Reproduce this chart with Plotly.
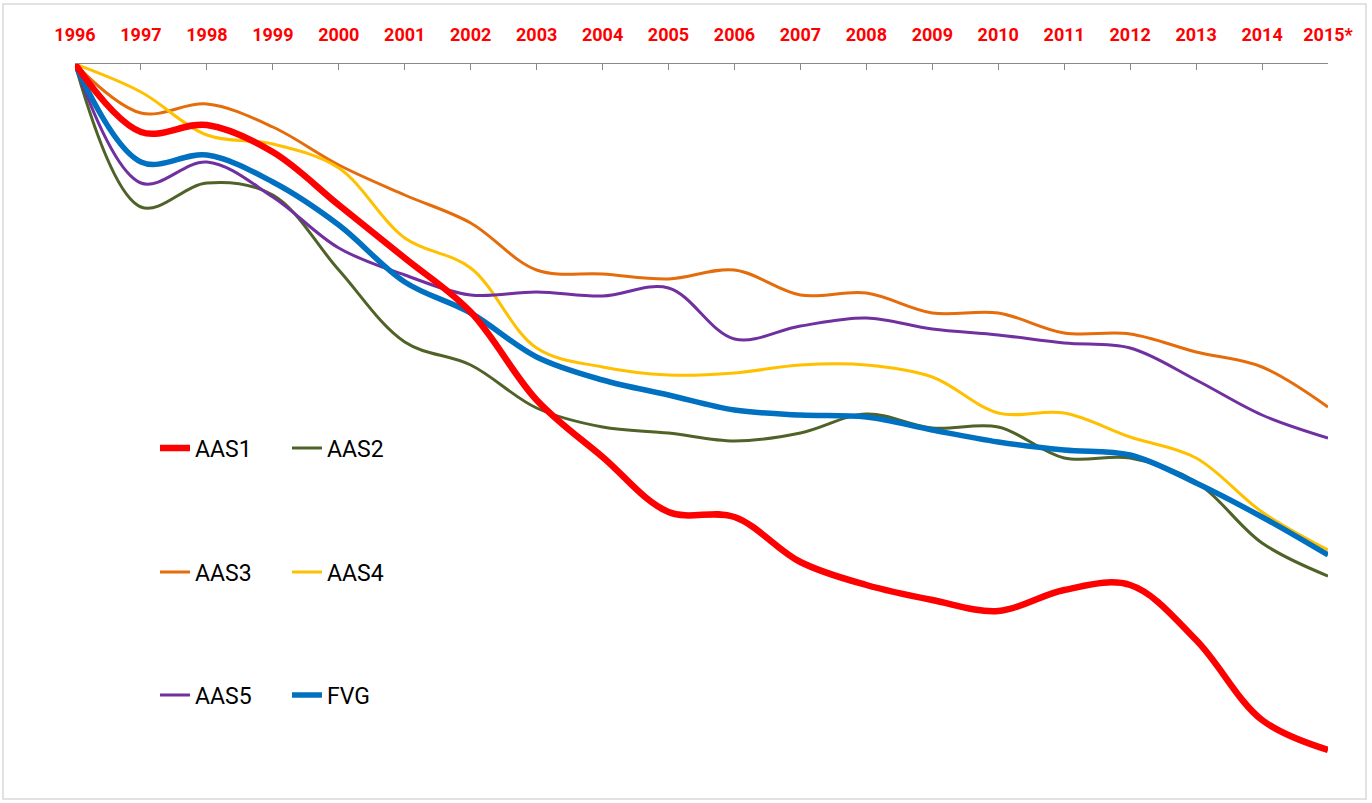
import plotly.graph_objects as go

years = ["1996", "1997", "1998", "1999", "2000", "2001", "2002", "2003", "2004", "2005",
         "2006", "2007", "2008", "2009", "2010", "2011", "2012", "2013", "2014", "2015*"]

aas1 = [100, 93.2, 93.9, 91.2, 85.9, 80.6, 75.2, 66.4, 60.7, 55.2, 54.7, 50.2, 47.9, 46.4, 45.3, 47.4, 47.9, 42.4, 34.4, 31.4]
aas2 = [100, 85.7, 88.1, 86.9, 79.4, 72.2, 69.9, 65.6, 63.7, 63.1, 62.3, 63.1, 65.0, 63.6, 63.7, 60.6, 60.6, 58.2, 52.1, 48.8]
aas3 = [100, 95.1, 96.0, 93.7, 89.9, 86.9, 84.1, 79.4, 79.0, 78.5, 79.4, 76.9, 77.1, 75.1, 75.1, 73.1, 73.0, 71.2, 69.7, 65.7]
aas4 = [100, 97.2, 92.9, 92.0, 89.6, 82.6, 79.6, 71.6, 69.7, 68.9, 69.1, 69.9, 69.9, 68.7, 65.1, 65.1, 62.7, 60.6, 55.2, 51.4]
aas5 = [100, 88.1, 90.2, 86.7, 81.6, 78.9, 76.9, 77.2, 76.8, 77.6, 72.5, 73.8, 74.6, 73.5, 72.9, 72.1, 71.6, 68.4, 64.9, 62.6]
fvg = [100, 90.2, 90.9, 88.2, 83.9, 78.2, 75.1, 70.7, 68.4, 66.9, 65.4, 64.9, 64.7, 63.4, 62.2, 61.4, 60.9, 58.1, 54.7, 50.9]

series = [
    ("AAS1", aas1, "#FF0000", 6.5, "legend"),
    ("AAS2", aas2, "#4F6228", 3, "legend"),
    ("AAS3", aas3, "#E46C0A", 3, "legend2"),
    ("AAS4", aas4, "#FFC000", 3, "legend2"),
    ("AAS5", aas5, "#7030A0", 3, "legend3"),
    ("FVG", fvg, "#0070C0", 5.5, "legend3"),
]

FONT = "Roboto, sans-serif"

fig = go.Figure()
order = [1, 2, 3, 4, 5, 0]
for i in order:
    name, vals, color, w, lg = series[i]
    fig.add_trace(go.Scatter(
        x=years, y=vals, name=name, mode="lines",
        line=dict(color=color, width=w, shape="spline", smoothing=1),
        legend=lg, legendrank=i,
    ))

W, H = 1372, 803
PL, PR, PT, PB = 75, 1328, 64, 780  # plot area in page pixels
L, R, T, B = PL, W - PR, PT, H - PB
pw = PR - PL
ph = PB - PT


def px_x(px):
    return (px - PL) / pw


def px_y(py):
    return (PB - py) / ph


leg_common = dict(orientation="h", xanchor="left", yanchor="middle",
                  font=dict(family=FONT, size=23, color="#000000"),
                  bgcolor="rgba(0,0,0,0)", entrywidth=87, itemwidth=30,
                  traceorder="normal")

fig.update_layout(
    width=W, height=H,
    margin=dict(l=L, r=R, t=T, b=B),
    paper_bgcolor="white", plot_bgcolor="white",
    showlegend=True,
    legend=dict(x=px_x(155), y=px_y(448), **leg_common),
    legend2=dict(x=px_x(155), y=px_y(572), **leg_common),
    legend3=dict(x=px_x(155), y=px_y(695), **leg_common),
    xaxis=dict(
        type="category", side="top", range=[0, len(years) - 1],
        showgrid=False, zeroline=False,
        showline=True, linecolor="#888888", linewidth=1,
        ticks="inside", ticklen=6, tickcolor="#888888",
        ticklabelstandoff=15,
        tickfont=dict(family=FONT, size=18, color="#FF0000", weight="bold"),
    ),
    yaxis=dict(
        range=[100 - ph * 0.1, 100],
        showgrid=False, zeroline=False, showline=False,
        showticklabels=False, ticks="",
    ),
    shapes=[dict(type="rect", xref="paper", yref="paper",
                 x0=px_x(3), x1=px_x(1366), y0=px_y(799), y1=px_y(4),
                 line=dict(color="#D9D9D9", width=1.5), layer="below")],
)

fig.write_html("out.html", config={"displayModeBar": False},
               post_script="document.body.style.margin='0';")
